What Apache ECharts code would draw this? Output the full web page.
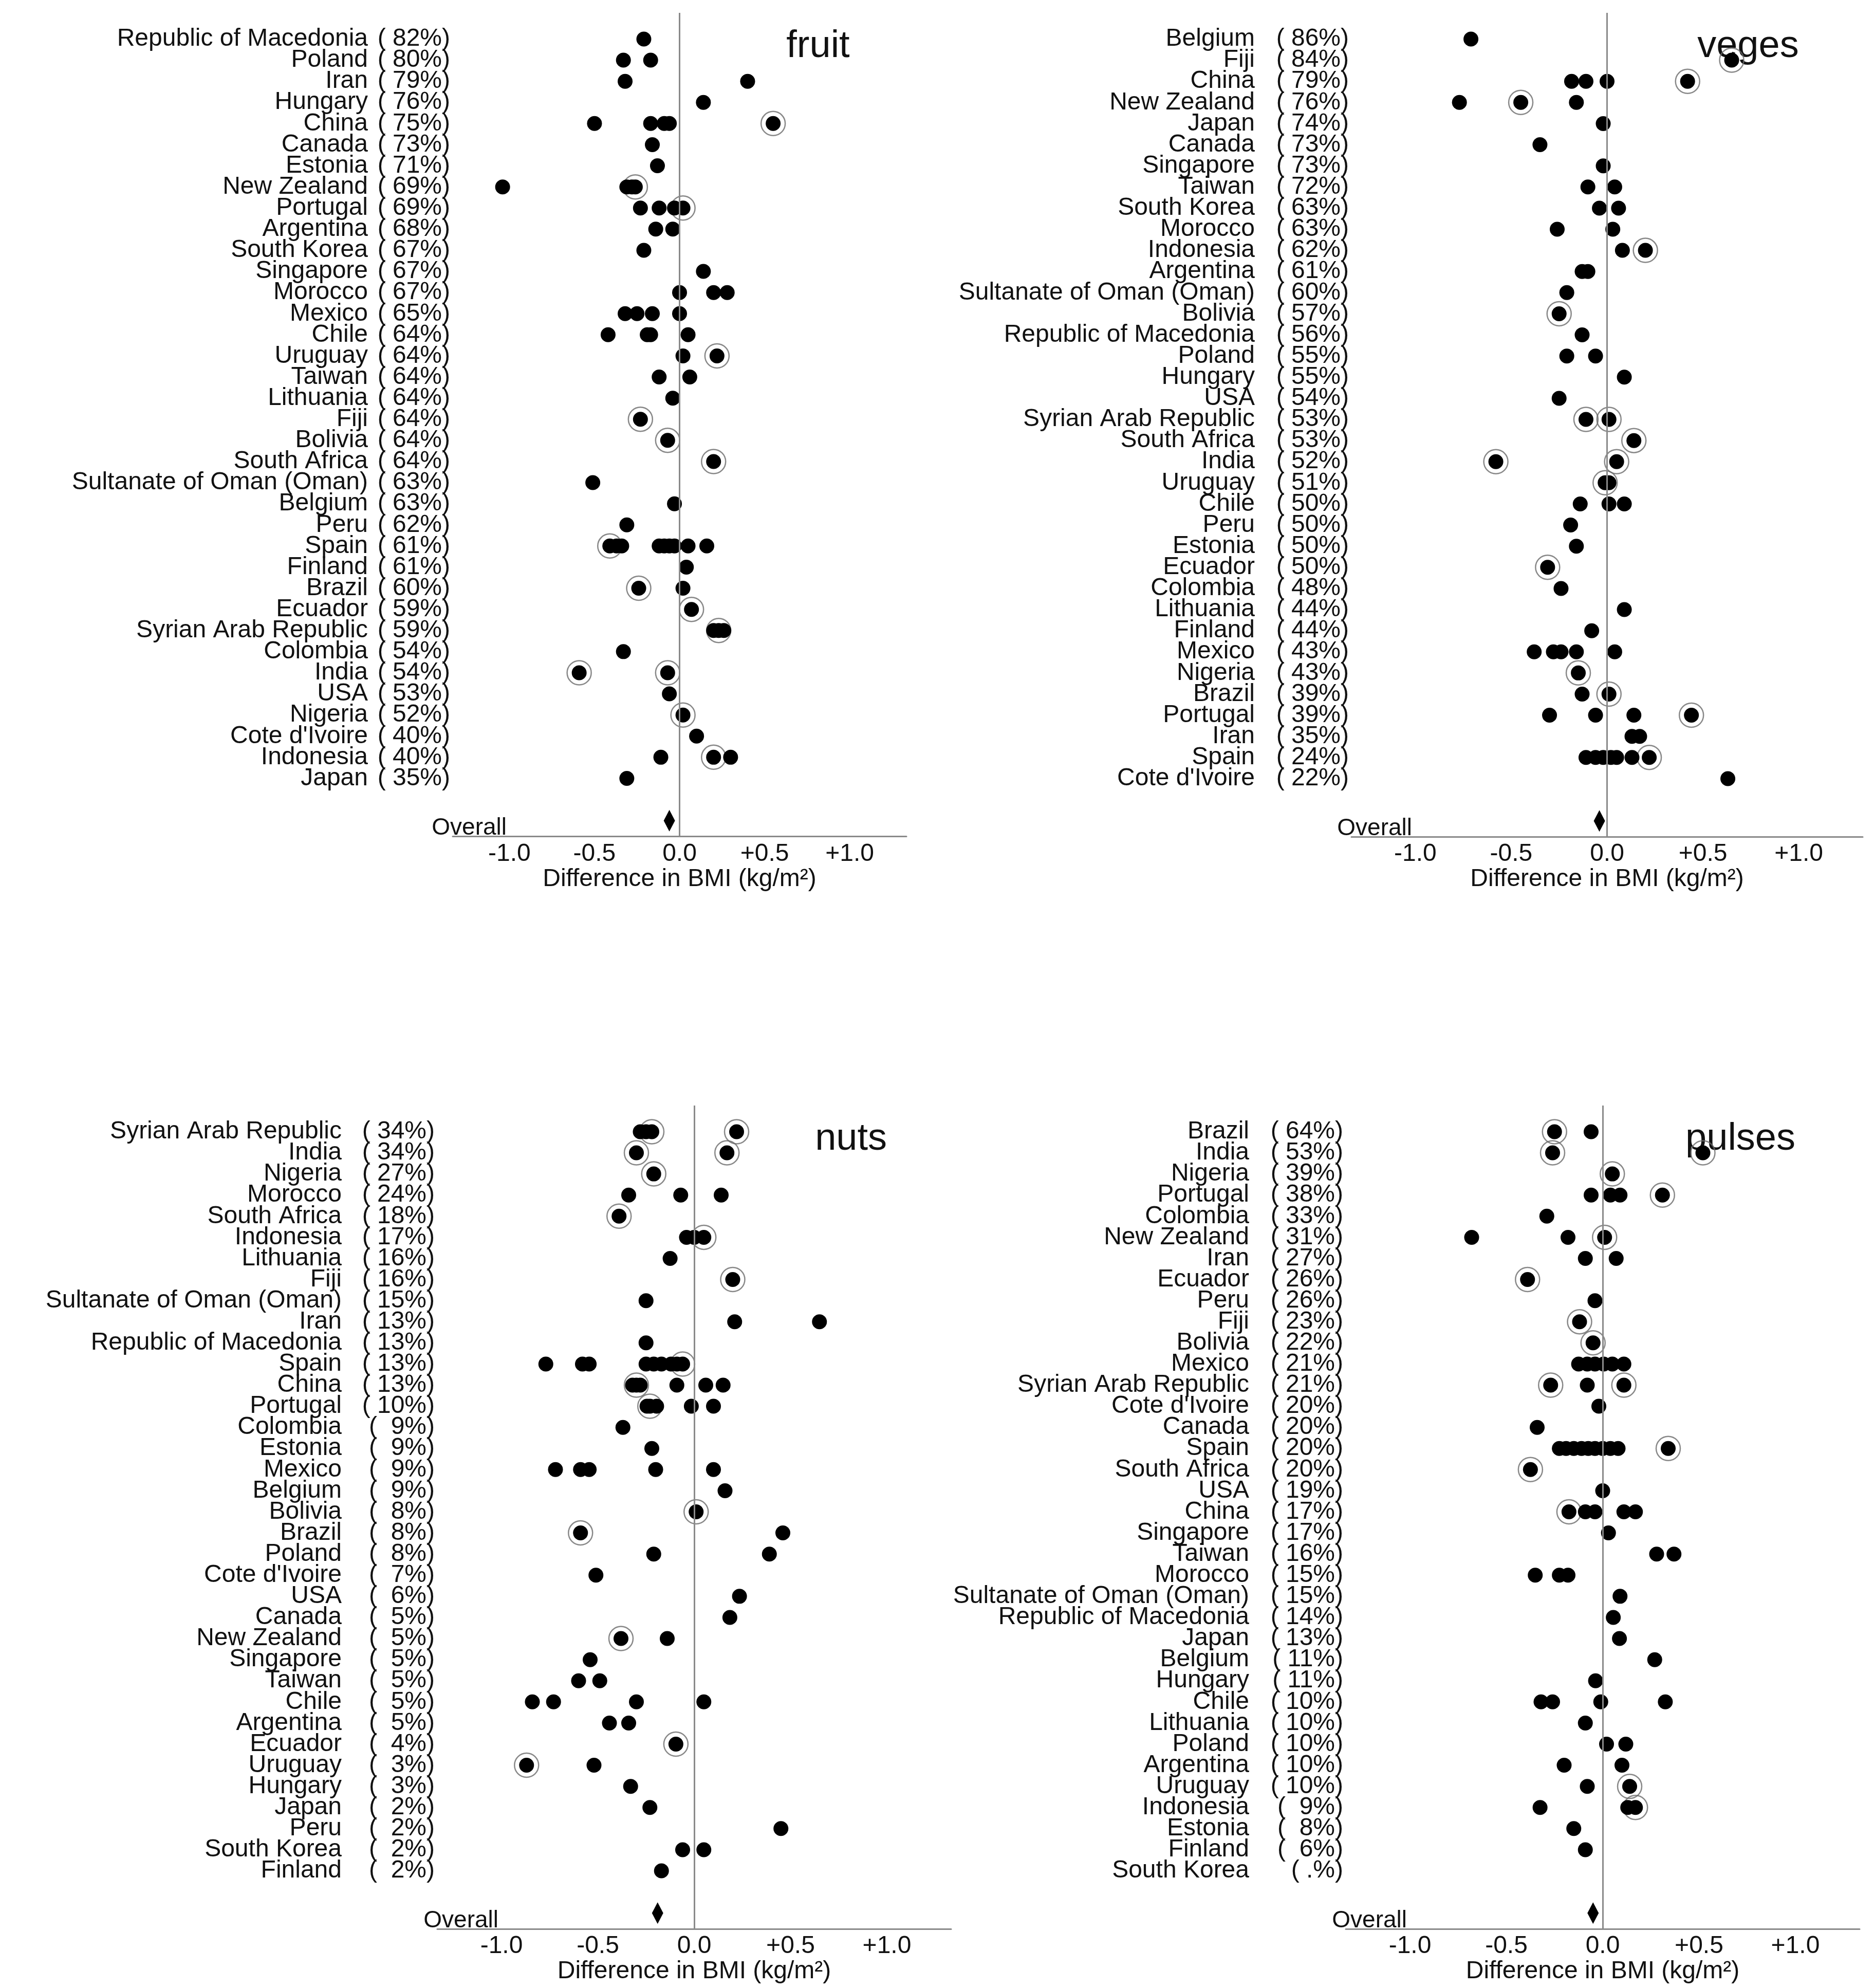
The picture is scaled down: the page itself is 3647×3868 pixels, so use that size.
<!DOCTYPE html>
<html><head><meta charset="utf-8">
<script src="https://cdn.jsdelivr.net/npm/echarts@6/dist/echarts.min.js"></script>
<style>html,body{margin:0;padding:0;background:#fff}#c{width:3647px;height:3868px}</style>
</head><body><div id="c"></div><script>
// ---------------- DATA ----------------
const xTickValues = [-1, -0.5, 0, 0.5, 1];
const xTickLabels = ['-1.0', '-0.5', '0.0', '+0.5', '+1.0'];
const axisTitle = 'Difference in BMI (kg/m\u00B2)';
const panelTitles = ['fruit', 'veges', 'nuts', 'pulses'];

const fruitCountries = ['Republic of Macedonia','Poland','Iran','Hungary','China','Canada','Estonia','New Zealand','Portugal','Argentina','South Korea','Singapore','Morocco','Mexico','Chile','Uruguay','Taiwan','Lithuania','Fiji','Bolivia','South Africa','Sultanate of Oman (Oman)','Belgium','Peru','Spain','Finland','Brazil','Ecuador','Syrian Arab Republic','Colombia','India','USA','Nigeria',"Cote d'Ivoire",'Indonesia','Japan'];
const fruitPct = [82,80,79,76,75,73,71,69,69,68,67,67,67,65,64,64,64,64,64,64,64,63,63,62,61,61,60,59,59,54,54,53,52,40,40,35];
const fruitDots = [[-0.21],[-0.33,-0.17],[-0.32,0.40],[0.14],[-0.50,-0.17,-0.09,-0.06],[-0.16],[-0.13],[-1.04,-0.31,-0.28],[-0.23,-0.12,-0.03],[-0.14,-0.04],[-0.21],[0.14],[0.00,0.20,0.28],[-0.32,-0.25,-0.16,0.00],[-0.42,-0.19,-0.17,0.05],[0.02],[-0.12,0.06],[-0.04],[],[],[],[-0.51],[-0.03],[-0.31],[-0.37,-0.34,-0.12,-0.09,-0.06,-0.03,0.05,0.16],[0.04],[0.02],[],[0.20,0.26],[-0.33],[],[-0.06],[],[0.10],[-0.11,0.30],[-0.31]];
const fruitCircled = [[],[],[],[],[0.55],[],[],[-0.26],[0.02],[],[],[],[],[],[],[0.22],[],[],[-0.23],[-0.07],[0.20],[],[],[],[-0.41],[],[-0.24],[0.07],[0.23],[],[-0.59,-0.07],[],[0.02],[],[0.20],[]];
const fruitOverall = -0.06;

const vegesCountries = ['Belgium','Fiji','China','New Zealand','Japan','Canada','Singapore','Taiwan','South Korea','Morocco','Indonesia','Argentina','Sultanate of Oman (Oman)','Bolivia','Republic of Macedonia','Poland','Hungary','USA','Syrian Arab Republic','South Africa','India','Uruguay','Chile','Peru','Estonia','Ecuador','Colombia','Lithuania','Finland','Mexico','Nigeria','Brazil','Portugal','Iran','Spain',"Cote d'Ivoire"];
const vegesPct = [86,84,79,76,74,73,73,72,63,63,62,61,60,57,56,55,55,54,53,53,52,51,50,50,50,50,48,44,44,43,43,39,39,35,24,22];
const vegesDots = [[-0.71],[],[-0.185,-0.11,0.00],[-0.77,-0.16],[-0.02],[-0.35],[-0.02],[-0.10,0.04],[-0.04,0.06],[-0.26,0.03],[0.08],[-0.13,-0.10],[-0.21],[],[-0.13],[-0.21,-0.06],[0.09],[-0.25],[],[],[],[0.01],[-0.14,0.01,0.09],[-0.19],[-0.16],[],[-0.24],[0.09],[-0.08],[-0.38,-0.28,-0.24,-0.16,0.04],[],[-0.13],[-0.30,-0.06,0.14],[0.13,0.17],[-0.11,-0.06,-0.02,0.02,0.05,0.13],[0.63]];
const vegesCircled = [[],[0.65],[0.42],[-0.45],[],[],[],[],[],[],[0.20],[],[],[-0.25],[],[],[],[],[-0.11,0.01],[0.14],[-0.58,0.05],[-0.01],[],[],[],[-0.31],[],[],[],[],[-0.15],[0.01],[0.44],[],[0.22],[]];
const vegesOverall = -0.04;

const nutsCountries = ['Syrian Arab Republic','India','Nigeria','Morocco','South Africa','Indonesia','Lithuania','Fiji','Sultanate of Oman (Oman)','Iran','Republic of Macedonia','Spain','China','Portugal','Colombia','Estonia','Mexico','Belgium','Bolivia','Brazil','Poland',"Cote d'Ivoire",'USA','Canada','New Zealand','Singapore','Taiwan','Chile','Argentina','Ecuador','Uruguay','Hungary','Japan','Peru','South Korea','Finland'];
const nutsPct = [34,34,27,24,18,17,16,16,15,13,13,13,13,10,9,9,9,9,8,8,8,7,6,5,5,5,5,5,5,4,3,3,2,2,2,2];
const nutsDots = [[-0.28,-0.25],[],[],[-0.34,-0.07,0.14],[],[-0.04,0.00],[-0.125],[],[-0.25],[0.21,0.65],[-0.25],[-0.77,-0.58,-0.545,-0.25,-0.21,-0.17,-0.12,-0.09],[-0.32,-0.28,-0.09,0.06,0.15],[-0.245,-0.195,-0.015,0.10],[-0.37],[-0.22],[-0.72,-0.59,-0.545,-0.20,0.10],[0.16],[],[0.46],[-0.21,0.39],[-0.51],[0.235],[0.185],[-0.14],[-0.54],[-0.60,-0.49],[-0.84,-0.73,-0.30,0.05],[-0.44,-0.34],[],[-0.52],[-0.33],[-0.23],[0.45],[-0.06,0.05],[-0.17]];
const nutsCircled = [[-0.22,0.22],[-0.30,0.17],[-0.21],[],[-0.39],[0.05],[],[0.20],[],[],[],[-0.06],[-0.30],[-0.23],[],[],[],[],[0.01],[-0.59],[],[],[],[],[-0.38],[],[],[],[],[-0.095],[-0.87],[],[],[],[],[]];
const nutsOverall = -0.19;

const pulsesCountries = ['Brazil','India','Nigeria','Portugal','Colombia','New Zealand','Iran','Ecuador','Peru','Fiji','Bolivia','Mexico','Syrian Arab Republic',"Cote d'Ivoire",'Canada','Spain','South Africa','USA','China','Singapore','Taiwan','Morocco','Sultanate of Oman (Oman)','Republic of Macedonia','Japan','Belgium','Hungary','Chile','Lithuania','Poland','Argentina','Uruguay','Indonesia','Estonia','Finland','South Korea'];
const pulsesPct = [64,53,39,38,33,31,27,26,26,23,22,21,21,20,20,20,20,19,17,17,16,15,15,14,13,11,11,10,10,10,10,10,9,8,6,null];
const pulsesDots = [[-0.06],[],[],[-0.06,0.04,0.09],[-0.29],[-0.68,-0.18],[-0.09,0.07],[],[-0.04],[],[],[-0.125,-0.08,-0.04,0.005,0.05,0.11],[-0.08],[-0.02],[-0.34],[-0.225,-0.19,-0.15,-0.11,-0.075,-0.04,0.00,0.04,0.08],[],[0.00],[-0.09,-0.04,0.11,0.17],[0.03],[0.28,0.37],[-0.35,-0.225,-0.18],[0.09],[0.055],[0.087],[0.27],[-0.037],[-0.32,-0.26,-0.01,0.325],[-0.09],[0.02,0.12],[-0.20,0.10],[-0.08],[-0.325,0.13],[-0.15],[-0.09],[]];
const pulsesCircled = [[-0.25],[-0.26,0.52],[0.05],[0.31],[],[0.01],[],[-0.39],[],[-0.12],[-0.05],[],[-0.27,0.11],[],[],[0.34],[-0.375],[],[-0.175],[],[],[],[],[],[],[],[],[],[],[],[],[0.14],[0.17],[],[],[]];
const pulsesOverall = -0.05;

// ---------------- LAYOUT ----------------
const FONT = '"Liberation Sans", Arial, Helvetica, sans-serif';
const TXT = '#111111';
const GREY = '#8a8a8a';
const OVERALL_ROW = 37;
const X_MIN = -4 / 3, X_MAX = 4 / 3, Y_MIN = -1.24, Y_MAX = 37.75;

const panels = [
  {names: fruitCountries, pct: fruitPct, dots: fruitDots, circ: fruitCircled, overall: fruitOverall, left: 881, width: 883, top: 25, height: 1602.5, gap: 15, ovOff: 105},
  {names: vegesCountries, pct: vegesPct, dots: vegesDots, circ: vegesCircled, overall: vegesOverall, left: 2630, width: 995, top: 25, height: 1603, gap: 38, ovOff: 118},
  {names: nutsCountries, pct: nutsPct, dots: nutsDots, circ: nutsCircled, overall: nutsOverall, left: 851, width: 1000, top: 2151, height: 1602, gap: 36, ovOff: 119},
  {names: pulsesCountries, pct: pulsesPct, dots: pulsesDots, circ: pulsesCircled, overall: pulsesOverall, left: 2619, width: 1000, top: 2151, height: 1602, gap: 38, ovOff: 119}
];

function pctText(p) {
  if (p == null) return '( .%)';
  return p < 10 ? '(  ' + p + '%)' : '( ' + p + '%)';
}

const grid = [], xAxis = [], yAxis = [], series = [], graphic = [];
panels.forEach((p, k) => {
  grid.push({left: p.left, top: p.top, width: p.width, height: p.height, containLabel: false});
  xAxis.push({
    gridIndex: k, type: 'value', min: X_MIN, max: X_MAX,
    axisLine: {show: true, onZero: false, lineStyle: {color: GREY, width: 3}},
    axisTick: {show: false}, splitLine: {show: false},
    axisLabel: {
      customValues: xTickValues, showMinLabel: true, showMaxLabel: true,
      formatter: (v) => { const i = xTickValues.findIndex(t => Math.abs(t - v) < 1e-9); return i >= 0 ? xTickLabels[i] : ''; },
      fontSize: 48, fontFamily: FONT, color: TXT, margin: 10
    },
    name: axisTitle, nameLocation: 'middle', nameGap: 50,
    nameTextStyle: {fontSize: 48, fontFamily: FONT, color: TXT}
  });
  // row labels: one empty guard position at each end (-1 and n) is always dropped
  // as the min/max label, so every real country row keeps its label
  const rowVals = [-1].concat(p.names.map((_, i) => i), [p.names.length]);
  yAxis.push({
    gridIndex: k, type: 'value', inverse: true, min: Y_MIN, max: Y_MAX,
    axisLine: {show: false}, axisTick: {show: false}, splitLine: {show: false},
    axisLabel: {
      customValues: rowVals,
      showMinLabel: false, showMaxLabel: false,
      margin: 5,
      formatter: (v) => {
        const i = Math.round(v);
        if (i < 0 || i >= p.names.length) return '';
        return '{n|' + p.names[i] + '}{g|}{p|' + pctText(p.pct[i]) + '}';
      },
      rich: {
        n: {fontSize: 48, fontFamily: FONT, color: TXT},
        g: {width: p.gap},
        p: {width: 145, align: 'right', fontSize: 48, fontFamily: FONT, color: TXT}
      }
    }
  });
  const dotData = [], ringData = [];
  p.dots.forEach((arr, i) => arr.forEach(v => dotData.push([v, i])));
  p.circ.forEach((arr, i) => arr.forEach(v => { dotData.push([v, i]); ringData.push([v, i]); }));
  series.push({
    type: 'scatter', xAxisIndex: k, yAxisIndex: k, data: ringData, silent: true, z: 2,
    symbol: 'circle', symbolSize: 47,
    itemStyle: {color: 'rgba(0,0,0,0)', borderColor: '#6a6a6a', borderWidth: 2.5},
    markLine: {silent: true, symbol: ['none', 'none'], label: {show: false},
      lineStyle: {color: GREY, width: 3, type: 'solid'}, data: [{xAxis: 0}]}
  });
  series.push({
    type: 'scatter', xAxisIndex: k, yAxisIndex: k, data: dotData, silent: true, z: 3,
    symbol: 'circle', symbolSize: 29, itemStyle: {color: '#000', opacity: 1}
  });
  series.push({
    type: 'scatter', xAxisIndex: k, yAxisIndex: k, data: [[p.overall, OVERALL_ROW]], silent: true, z: 3,
    symbol: 'diamond', symbolSize: [22, 42], itemStyle: {color: '#000', opacity: 1}
  });
  graphic.push({type: 'text', x: p.left + p.width * (1 - X_MIN) / (X_MAX - X_MIN), y: p.top + 66,
    style: {text: panelTitles[k], fontSize: 74, fontFamily: FONT, fill: TXT, align: 'right', verticalAlign: 'middle'}});
  graphic.push({type: 'text', x: p.left + p.ovOff, y: p.top + p.height - 16,
    style: {text: 'Overall', fontSize: 46, fontFamily: FONT, fill: TXT, align: 'right', verticalAlign: 'middle'}});
});

const chart = echarts.init(document.getElementById('c'), null, {renderer: 'canvas'});
chart.setOption({
  animation: false, backgroundColor: '#ffffff',
  grid, xAxis, yAxis, series, graphic
});
</script></body></html>
